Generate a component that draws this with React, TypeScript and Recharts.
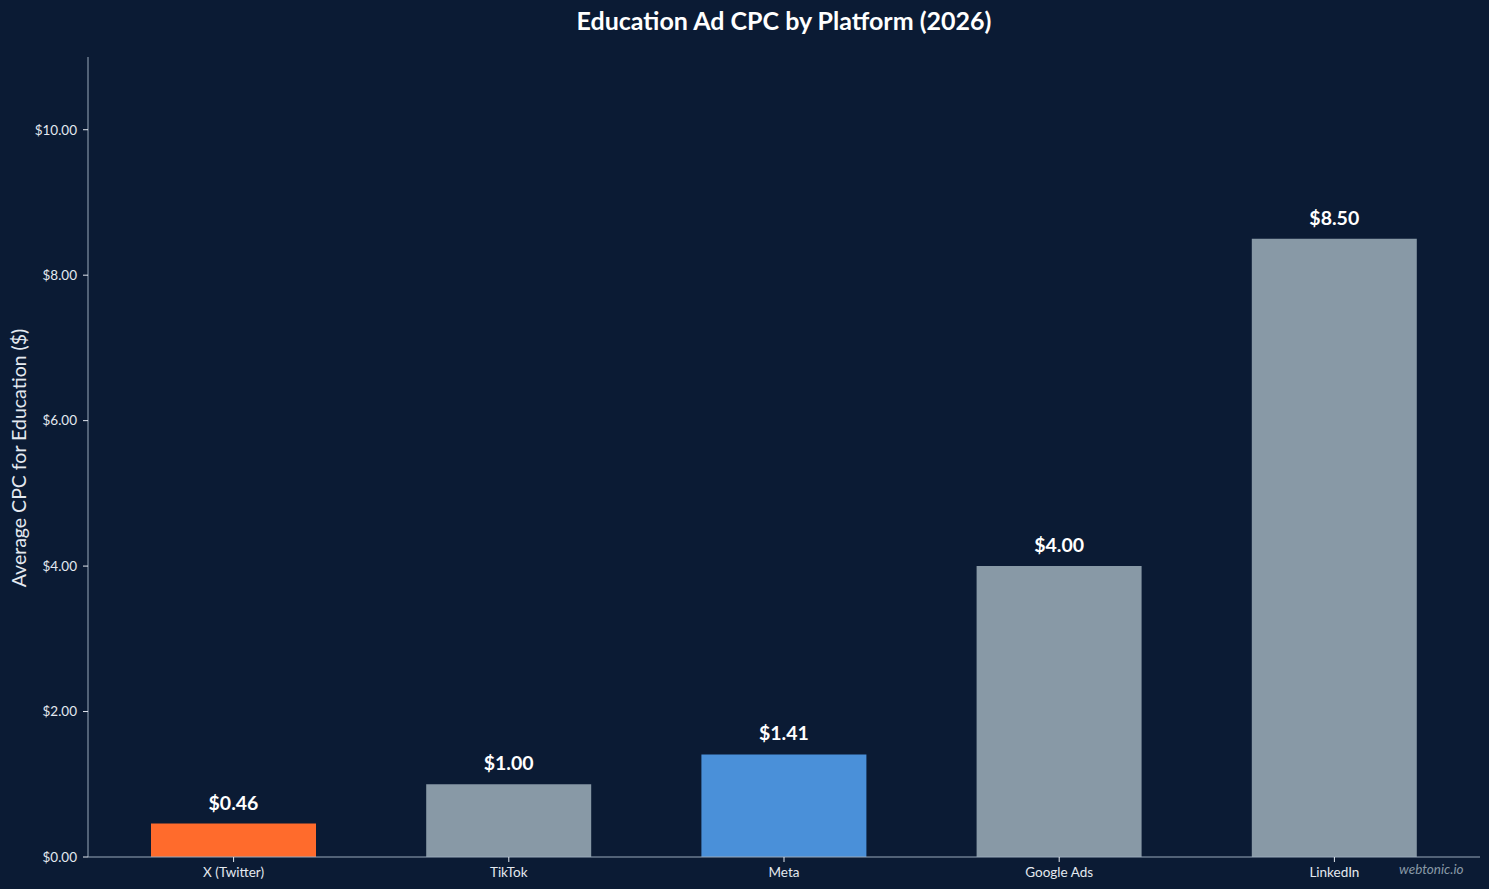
import React from 'react';
import { BarChart, Bar, XAxis, YAxis, Cell, LabelList } from 'recharts';

const platforms = ['X (Twitter)', 'TikTok', 'Meta', 'Google Ads', 'LinkedIn'];
const cpcValues = [0.46, 1.0, 1.41, 4.0, 8.5];
const barColors = ['#ff6b2c', '#8899a6', '#4a90d9', '#8899a6', '#8899a6'];
const yTicks = [0, 2, 4, 6, 8, 10];

const data = platforms.map((name, i) => ({ name, cpc: cpcValues[i] }));

const BG = '#0b1b34';
const AXIS = '#9aaaba';
const TEXT = '#e4e9f0';

const App: React.FC = () => {
  return (
    <div
      style={{
        position: 'fixed',
        top: 0,
        left: 0,
        width: 1489,
        height: 889,
        background: BG,
        fontFamily: 'Lato, "Noto Sans", sans-serif',
        overflow: 'hidden',
      }}
    >
      <div
        style={{
          position: 'absolute',
          top: 5,
          left: 88,
          width: 1392,
          textAlign: 'center',
          color: '#ffffff',
          fontSize: 25,
          fontWeight: 700,
        }}
      >
        Education Ad CPC by Platform (2026)
      </div>
      <div
        style={{
          position: 'absolute',
          left: 18,
          top: 458,
          transform: 'translate(-50%, -50%) rotate(-90deg)',
          whiteSpace: 'nowrap',
          color: TEXT,
          fontSize: 19.5,
        }}
      >
        Average CPC for Education ($)
      </div>
      <BarChart
        width={1489}
        height={889}
        data={data}
        margin={{ top: 57, right: 9, bottom: 2, left: 8 }}
        barCategoryGap={0}
      >
        <XAxis
          dataKey="name"
          height={30}
          padding={{ left: 8, right: 8 }}
          axisLine={{ stroke: AXIS }}
          tickLine={{ stroke: TEXT }}
          tickSize={5}
          tickMargin={5}
          tick={{ fill: TEXT, fontSize: 13.5 }}
          interval={0}
        />
        <YAxis
          width={80}
          domain={[0, 11]}
          ticks={yTicks}
          tickFormatter={(v: number) => `$${v.toFixed(2)}`}
          axisLine={{ stroke: AXIS }}
          tickLine={{ stroke: TEXT }}
          tickSize={5}
          tickMargin={6}
          tick={{ fill: TEXT, fontSize: 13.5 }}
          allowDataOverflow
        />
        <Bar dataKey="cpc" barSize={165} isAnimationActive={false}>
          {data.map((d, i) => (
            <Cell key={d.name} fill={barColors[i]} />
          ))}
          <LabelList
            dataKey="cpc"
            position="top"
            offset={14}
            fill="#ffffff"
            fontSize={19.5}
            fontWeight={700}
            formatter={(v: number) => `$${Number(v).toFixed(2)}`}
          />
        </Bar>
      </BarChart>
      <div
        style={{
          position: 'absolute',
          left: 1399,
          top: 861,
          color: '#8899a6',
          fontSize: 13.5,
          fontStyle: 'italic',
        }}
      >
        webtonic.io
      </div>
    </div>
  );
};

export default App;
